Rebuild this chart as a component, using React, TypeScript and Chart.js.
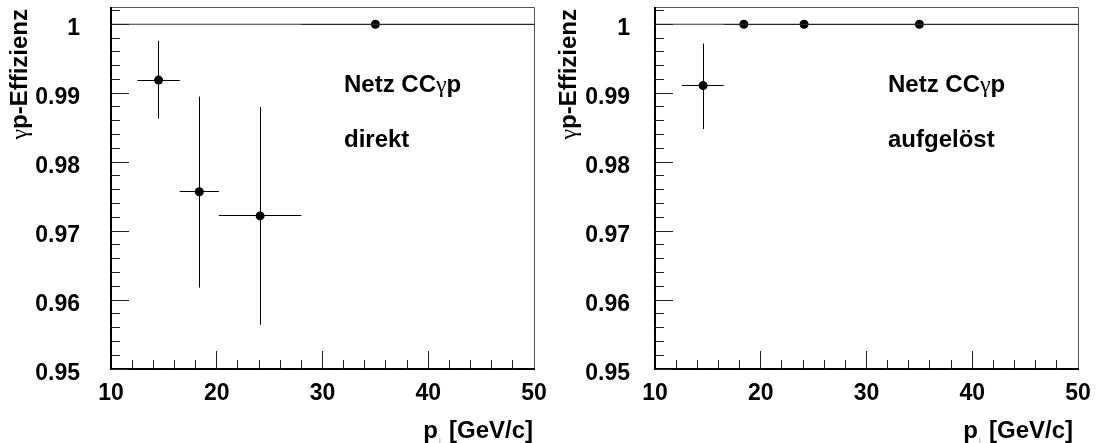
import React, { useEffect, useRef } from "react";
import { Chart, registerables } from "chart.js";

Chart.register(...registerables);

// ---- axis ranges and ticks ----
const X_MIN = 10;
const X_MAX = 50;
const Y_MIN = 0.95;
const Y_MAX = 1.0025;
const xTickValues = [10, 20, 30, 40, 50];
const yTickValues = [0.95, 0.96, 0.97, 0.98, 0.99, 1];
const xMinorValues = [12, 14, 16, 18, 22, 24, 26, 28, 32, 34, 36, 38, 42, 44, 46, 48];
const yMinorValues = [0.952, 0.954, 0.956, 0.958, 0.962, 0.964, 0.966, 0.968, 0.972, 0.974, 0.976, 0.978, 0.982, 0.984, 0.986, 0.988, 0.992, 0.994, 0.996, 0.998, 1.002];
const referenceLevel = [1];

// ---- left panel: direkt ----
const direktPt = [14.5, 18.35, 24.1, 35.0];
const direktPtLow = [12.5, 16.5, 20.2, 28.0];
const direktPtHigh = [16.5, 20.2, 28.0, 50.0];
const direktEff = [0.9919, 0.9757, 0.9722, 1.0];
const direktErrUp = [0.0057, 0.0138, 0.0158, 0];
const direktErrDown = [0.0056, 0.0139, 0.0158, 0];

// ---- right panel: aufgelöst ----
const aufgPt = [14.55, 18.4, 24.1, 35.0];
const aufgPtLow = [12.55, 16.5, 20.2, 28.0];
const aufgPtHigh = [16.5, 20.2, 28.0, 50.0];
const aufgEff = [0.9911, 1.0, 1.0, 1.0];
const aufgErrUp = [0.0061, 0, 0, 0];
const aufgErrDown = [0.0063, 0, 0, 0];

const yTitleRest = "p-Effizienz";
const yTitleGreek = "γ";
const xTitleMain = "p";
const xTitleSub = "⊥";
const xTitleUnit = "[GeV/c]";
const netzA = "Netz CC";
const netzGreek = "γ";
const netzB = "p";

const SANS = '"Liberation Sans", Arial, Helvetica, sans-serif';
const SERIF = '"Liberation Serif", "Times New Roman", serif';

type Panel = {
  label: string;
  pt: number[];
  low: number[];
  high: number[];
  eff: number[];
  up: number[];
  down: number[];
  padLeft: number;
  padRight: number;
  yLabelRight: number;
  yTitleX: number;
  xTitleRight: number;
  textX: number;
};

const panels: Panel[] = [
  {
    label: "direkt",
    pt: direktPt,
    low: direktPtLow,
    high: direktPtHigh,
    eff: direktEff,
    up: direktErrUp,
    down: direktErrDown,
    padLeft: 111,
    padRight: 18,
    yLabelRight: 80,
    yTitleX: 27,
    xTitleRight: 533,
    textX: 344,
  },
  {
    label: "aufgelöst",
    pt: aufgPt,
    low: aufgPtLow,
    high: aufgPtHigh,
    eff: aufgEff,
    up: aufgErrUp,
    down: aufgErrDown,
    padLeft: 103,
    padRight: 26,
    yLabelRight: 78,
    yTitleX: 24,
    xTitleRight: 521,
    textX: 336,
  },
];

const snap = (v: number) => Math.round(v - 0.5) + 0.5;

function makePlugin(p: Panel) {
  return {
    id: "rootStyle",
    beforeDatasetDraw(chart: any, args: any) {
      if (args.index !== 1) return;
      const ctx = chart.ctx;
      const xs = chart.scales.x;
      const ys = chart.scales.y;
      ctx.save();
      ctx.strokeStyle = "#000";
      ctx.lineWidth = 1;
      for (let i = 0; i < p.pt.length; i++) {
        const px = snap(xs.getPixelForValue(p.pt[i]));
        const py = snap(ys.getPixelForValue(p.eff[i]));
        const x0 = xs.getPixelForValue(p.low[i]);
        const x1 = Math.min(xs.getPixelForValue(p.high[i]), chart.chartArea.right);
        ctx.beginPath();
        ctx.moveTo(x0, py);
        ctx.lineTo(x1, py);
        ctx.stroke();
        if (p.up[i] > 0 || p.down[i] > 0) {
          const y0 = ys.getPixelForValue(p.eff[i] + p.up[i]);
          const y1 = ys.getPixelForValue(p.eff[i] - p.down[i]);
          ctx.beginPath();
          ctx.moveTo(px, y0);
          ctx.lineTo(px, y1);
          ctx.stroke();
        }
      }
      ctx.restore();
    },
    afterDatasetsDraw(chart: any) {
      const ctx = chart.ctx;
      const xs = chart.scales.x;
      const ys = chart.scales.y;
      const { left, right, top, bottom } = chart.chartArea;
      ctx.save();

      // frame
      ctx.strokeStyle = "#555";
      ctx.lineWidth = 1;
      ctx.beginPath();
      ctx.moveTo(left, top + 0.5);
      ctx.lineTo(right + 0.5, top + 0.5);
      ctx.lineTo(right + 0.5, bottom);
      ctx.stroke();
      ctx.strokeStyle = "#000";
      ctx.lineWidth = 2;
      ctx.beginPath();
      ctx.moveTo(left, top);
      ctx.lineTo(left, bottom);
      ctx.lineTo(right + 1, bottom);
      ctx.stroke();

      // ticks
      ctx.lineWidth = 1;
      ctx.strokeStyle = "#222";
      const yTick = (v: number, len: number) => {
        const y = snap(ys.getPixelForValue(v));
        ctx.beginPath();
        ctx.moveTo(left, y);
        ctx.lineTo(left + len, y);
        ctx.stroke();
      };
      const xTick = (v: number, len: number) => {
        const x = snap(xs.getPixelForValue(v));
        ctx.beginPath();
        ctx.moveTo(x, bottom);
        ctx.lineTo(x, bottom - len);
        ctx.stroke();
      };
      yTickValues.forEach((v) => yTick(v, 18));
      yMinorValues.forEach((v) => yTick(v, 9));
      xTickValues.forEach((v) => { if (v > X_MIN && v < X_MAX) xTick(v, 18); });
      xMinorValues.forEach((v) => xTick(v, 9));

      // tick labels
      ctx.fillStyle = "#000";
      ctx.font = `bold 23px ${SANS}`;
      ctx.textBaseline = "alphabetic";
      ctx.textAlign = "right";
      yTickValues.forEach((v) => {
        const y = ys.getPixelForValue(v);
        const txt = v === 1 ? "1" : v.toFixed(2);
        ctx.fillText(txt, p.yLabelRight, y + 11);
      });
      ctx.textAlign = "center";
      xTickValues.forEach((v) => {
        ctx.fillText(String(v), xs.getPixelForValue(v), bottom + 31);
      });

      // x title
      ctx.font = `bold 24px ${SANS}`;
      ctx.textAlign = "right";
      ctx.fillText(xTitleUnit, p.xTitleRight, 438);
      const unitStart = p.xTitleRight - ctx.measureText(xTitleUnit).width;
      ctx.fillText(xTitleMain, unitStart - 11, 438);
      ctx.font = `9px "DejaVu Sans", sans-serif`;
      ctx.fillStyle = "#777";
      ctx.textAlign = "center";
      ctx.fillText(xTitleSub, unitStart - 9, 444);

      // y title (rotated)
      ctx.fillStyle = "#000";
      ctx.save();
      ctx.translate(p.yTitleX, 9);
      ctx.rotate(-Math.PI / 2);
      ctx.textAlign = "right";
      ctx.font = `bold 24px ${SANS}`;
      ctx.fillText(yTitleRest, 0, 0);
      const wRest = ctx.measureText(yTitleRest).width;
      ctx.font = `24px ${SERIF}`;
      ctx.fillText(yTitleGreek, -wRest, 0);
      ctx.restore();

      // annotation text
      ctx.textAlign = "left";
      let tx = p.textX;
      ctx.font = `bold 24px ${SANS}`;
      ctx.fillText(netzA, tx, 92);
      tx += ctx.measureText(netzA).width;
      ctx.font = `24px ${SERIF}`;
      ctx.fillText(netzGreek, tx, 92);
      tx += ctx.measureText(netzGreek).width;
      ctx.font = `bold 24px ${SANS}`;
      ctx.fillText(netzB, tx, 92);
      ctx.fillText(p.label, p.textX, 147);

      ctx.restore();
    },
  };
}

function PanelChart({ panel, left }: { panel: Panel; left: number }) {
  const ref = useRef<HTMLCanvasElement | null>(null);
  useEffect(() => {
    if (!ref.current) return;
    const chart = new Chart(ref.current, {
      type: "scatter",
      data: {
        datasets: [
          {
            type: "line",
            data: [
              { x: X_MIN, y: referenceLevel[0] },
              { x: X_MAX, y: referenceLevel[0] },
            ],
            borderColor: "#333",
            borderWidth: 1,
            pointRadius: 0,
            fill: false,
          } as any,
          {
            type: "scatter",
            data: panel.pt.map((x, i) => ({ x, y: panel.eff[i] })),
            pointRadius: 4.5,
            pointHoverRadius: 4.5,
            backgroundColor: "#000",
            borderColor: "#000",
            borderWidth: 0,
            clip: false,
          } as any,
        ],
      },
      options: {
        responsive: false,
        animation: false,
        devicePixelRatio: 1,
        events: [],
        layout: { padding: { left: panel.padLeft, right: panel.padRight, top: 7, bottom: 74 } },
        scales: {
          x: { type: "linear", min: X_MIN, max: X_MAX, display: false },
          y: { type: "linear", min: Y_MIN, max: Y_MAX, display: false },
        },
        plugins: { legend: { display: false }, tooltip: { enabled: false } },
      },
      plugins: [makePlugin(panel)],
    } as any);
    return () => chart.destroy();
  }, [panel]);
  return (
    <canvas
      ref={ref}
      width={552}
      height={443}
      style={{ position: "absolute", left, top: 0, width: 552, height: 443 }}
    />
  );
}

export default function App() {
  return (
    <div
      style={{
        position: "absolute",
        left: 0,
        top: 0,
        width: 1104,
        height: 443,
        background: "#fff",
        overflow: "hidden",
      }}
    >
      <PanelChart panel={panels[0]} left={0} />
      <PanelChart panel={panels[1]} left={552} />
    </div>
  );
}
